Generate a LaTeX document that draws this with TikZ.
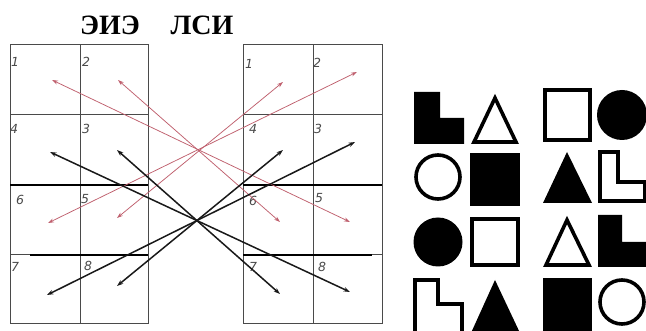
\documentclass[tikz,border=0pt]{standalone}
\usepackage{fontspec}
\setmainfont{Liberation Serif}
\newfontfamily\labfont{DejaVu Sans}
\usetikzlibrary{arrows.meta}
\definecolor{redarr}{HTML}{C0606E}
\definecolor{gridc}{HTML}{4A4A4A}
\begin{document}
\begin{tikzpicture}[x=1pt,y=-1pt,
  gridline/.style={draw=gridc,line width=1pt},
  thickline/.style={draw=black,line width=1.8pt},
  redlink/.style={draw=redarr,line width=0.75pt,{Stealth[length=6pt,width=4pt]}-{Stealth[length=6pt,width=4pt]}},
  blacklink/.style={draw=black!90,line width=1.5pt,{Stealth[length=6.5pt,width=4.5pt]}-{Stealth[length=6.5pt,width=4.5pt]}},
  cellnum/.style={font=\labfont\itshape\fontsize{12.5}{12.5}\selectfont,text=gridc,inner sep=0pt},
  titletext/.style={font=\fontsize{28}{28}\selectfont\bfseries,anchor=base,inner sep=0pt},
  outl/.style={draw=black,line width=3.6pt,fill=white},
  solid/.style={fill=black}]
\useasboundingbox (0,0) rectangle (646,331);
\fill[white] (0,0) rectangle (646,331);
% titles
\node[titletext] (t1) at (110,35) {ЭИЭ};
\node[titletext] (t2) at (202,35) {ЛСИ};
% left grid
\draw[gridline] (10,45) rectangle (148,324);
\draw[gridline] (80,45) -- (80,324);
\draw[gridline] (10,115) -- (148,115);
\draw[gridline] (10,255) -- (30,255);
\draw[thickline] (10,185) -- (148,185);
\draw[thickline] (30,255) -- (148,255);
% right grid
\draw[gridline] (243,45) rectangle (382,324);
\draw[gridline] (313,45) -- (313,324);
\draw[gridline] (243,115) -- (382,115);
\draw[gridline] (372,255) -- (382,255);
\draw[thickline] (243,185) -- (382,185);
\draw[thickline] (243,255) -- (372,255);
% cell numbers
\node[cellnum] (l1) at (15,62) {1};
\node[cellnum] (l2) at (86,62) {2};
\node[cellnum] (l4) at (14,129) {4};
\node[cellnum] (l3) at (86,129) {3};
\node[cellnum] (l6) at (20,200) {6};
\node[cellnum] (l5) at (85,199) {5};
\node[cellnum] (l7) at (15,267) {7};
\node[cellnum] (l8) at (88,266) {8};
\node[cellnum] (r1) at (249,64) {1};
\node[cellnum] (r2) at (317,63) {2};
\node[cellnum] (r4) at (253,129) {4};
\node[cellnum] (r3) at (318,129) {3};
\node[cellnum] (r6) at (253,201) {6};
\node[cellnum] (r5) at (319,198) {5};
\node[cellnum] (r7) at (253,267) {7};
\node[cellnum] (r8) at (322,267) {8};
% arrow endpoints
\coordinate (ra1) at (52,80);   \coordinate (ra1e) at (350,222);
\coordinate (ra2) at (118,80);  \coordinate (ra2e) at (280,222);
\coordinate (ra3) at (357,72);  \coordinate (ra3e) at (48,223);
\coordinate (ra4) at (283,82);  \coordinate (ra4e) at (117,218);
\coordinate (ba1) at (50,152);  \coordinate (ba1e) at (350,292);
\coordinate (ba2) at (117,150); \coordinate (ba2e) at (280,294);
\coordinate (ba3) at (355,142); \coordinate (ba3e) at (47,295);
\coordinate (ba4) at (283,150); \coordinate (ba4e) at (117,286);
\draw[redlink] (ra1) -- (ra1e);
\draw[redlink] (ra2) -- (ra2e);
\draw[redlink] (ra3) -- (ra3e);
\draw[redlink] (ra4) -- (ra4e);
\draw[blacklink] (ba1) -- (ba1e);
\draw[blacklink] (ba2) -- (ba2e);
\draw[blacklink] (ba3) -- (ba3e);
\draw[blacklink] (ba4) -- (ba4e);
% figures
\begin{scope}
\clip (0,0) rectangle (646,331);
% row 1
\fill[solid] (414,92) -- (440,92) -- (440,118) -- (464,118) -- (464,144) -- (414,144) -- cycle;
\draw[outl,line join=miter] (474,142) -- (516,142) -- (495,98) -- cycle;
\draw[outl] (545,90) rectangle (590,140);
\fill[solid] (622,115) circle (25);
% row 2
\draw[outl] (438,177) circle (22);
\fill[solid] (470,153) rectangle (520,206);
\fill[solid] (543,203) -- (592,203) -- (567,152) -- cycle;
\draw[outl] (600,152) -- (618,152) -- (618,182) -- (645,182) -- (645,201) -- (600,201) -- cycle;
% row 3
\fill[solid] (438,242) circle (24.5);
\draw[outl] (472,219) rectangle (518,265);
\draw[outl,line join=miter] (546,265) -- (589,265) -- (567,220) -- cycle;
\fill[solid] (598,215) -- (622,215) -- (622,242) -- (647,242) -- (647,267) -- (598,267) -- cycle;
% row 4
\draw[outl] (415,280) -- (438,280) -- (438,304) -- (462,304) -- (462,336) -- (415,336) -- cycle;
\fill[solid] (471,333) -- (520,333) -- (495,280) -- cycle;
\fill[solid] (543,278) rectangle (592,333);
\draw[outl] (622,302) circle (22);
\end{scope}
\end{tikzpicture}
\end{document}
